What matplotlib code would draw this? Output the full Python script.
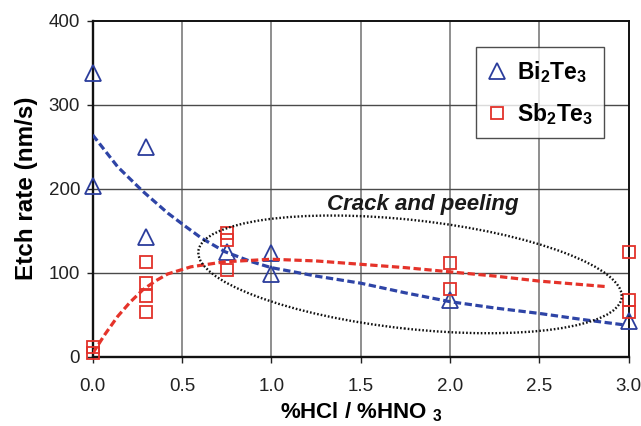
import matplotlib
matplotlib.use("Agg")
import matplotlib.pyplot as plt
from matplotlib.patches import Ellipse
from matplotlib.transforms import Affine2D
from matplotlib.lines import Line2D

plt.rcParams['font.family'] = ['Liberation Sans', 'DejaVu Sans']
plt.rcParams['mathtext.fontset'] = 'custom'
plt.rcParams['mathtext.rm'] = 'Liberation Sans'
plt.rcParams['mathtext.bf'] = 'Liberation Sans:bold'
plt.rcParams['mathtext.it'] = 'Liberation Sans:italic'

# measured points
bi_x = [0.0, 0.0, 0.3, 0.3, 0.75, 1.0, 1.0, 2.0, 3.0]
bi_y = [338, 203, 250, 142, 125, 124, 99, 67, 42]

sb_x = [0.0, 0.0, 0.3, 0.3, 0.3, 0.3, 0.75, 0.75, 0.75, 2.0, 2.0, 3.0, 3.0, 3.0]
sb_y = [11, 4, 113, 88, 72, 53, 147, 139, 103, 111, 80, 125, 68, 53]

# trend lines
bi_fit_x = [0.0, 0.14, 0.28, 0.42, 0.52, 0.61, 0.74, 0.89, 1.0, 1.25, 1.5, 1.75, 2.0, 2.25, 2.5, 2.75, 2.97]
bi_fit_y = [264, 226, 197, 171, 155, 141, 125, 113, 106, 96, 87.5, 76, 65.5, 58, 51.5, 44, 38]

sb_fit_x = [0.0, 0.07, 0.14, 0.21, 0.28, 0.35, 0.42, 0.55, 0.74, 1.0, 1.25, 1.5, 1.75, 2.0, 2.25, 2.5, 2.87]
sb_fit_y = [4, 27, 48, 65, 79.5, 90, 98.5, 107, 113, 116, 114, 110, 106, 101, 96, 90, 83.5]

blue = '#2b3d9c'
red = '#e2312a'

fig = plt.figure(figsize=(6.41, 4.26), dpi=100)
ax = fig.add_axes([0.1446, 0.1627, 0.8362, 0.7887])

ax.set_xlim(0, 3.0)
ax.set_ylim(0, 400)
ax.set_xticks([0, 0.5, 1.0, 1.5, 2.0, 2.5, 3.0])
ax.set_xticklabels(['0.0', '0.5', '1.0', '1.5', '2.0', '2.5', '3.0'])
ax.set_yticks([0, 100, 200, 300, 400])

for xv in [0.5, 1.0, 1.5, 2.0, 2.5]:
    ax.axvline(xv, color='#707070', lw=1.1, zorder=1)
for yv in [100, 200, 300]:
    ax.axhline(yv, color='#4a4a4a', lw=1.0, zorder=1)

ax.plot(bi_x, bi_y, ls='none', marker='^', ms=11.5, mfc='none', mec=blue, mew=1.3,
        clip_on=False, zorder=3)
ax.plot(sb_x, sb_y, ls='none', marker='s', ms=9.2, mfc='none', mec=red, mew=1.3,
        clip_on=False, zorder=3)

ax.plot(bi_fit_x, bi_fit_y, color='#2e44a6', lw=2.3, dashes=(2.3, 1.1), zorder=4)
ax.plot(sb_fit_x, sb_fit_y, color='#e5332a', lw=2.3, dashes=(2.3, 1.1), zorder=4)

# dotted ellipse, drawn in a space where x and y units have the same pixel size
bb = ax.get_position()
W = bb.width * fig.get_figwidth()
H = bb.height * fig.get_figheight()
ys = (400.0 * W) / (3.0 * H)
ell = Ellipse((1.776, 98.0 / ys), width=2.383, height=0.609, angle=-6.26,
              transform=Affine2D().scale(1, ys) + ax.transData,
              fill=False, edgecolor='#111111', lw=1.7, linestyle=(0, (0.7, 0.85)), zorder=5)
ax.add_patch(ell)

ax.text(1.85, 175, 'Crack and peeling', ha='center', va='baseline', fontsize=16,
        fontweight='bold', fontstyle='italic', color='#1a1a1a', zorder=6)

for s in ['left', 'bottom']:
    ax.spines[s].set_linewidth(1.7)
for s in ['top', 'right']:
    ax.spines[s].set_linewidth(1.4)
for s in ax.spines.values():
    s.set_color('#111111')
    s.set_zorder(2)

ax.tick_params(axis='y', direction='out', length=4, width=1, pad=5, labelsize=13.5, colors='#222222')
ax.tick_params(axis='x', direction='out', length=4.5, width=1, pad=11, labelsize=13.5, colors='#222222')

ax.set_ylabel('Etch rate (nm/s)', fontsize=17.5, fontweight='bold', labelpad=8)
ax.set_xlabel(r'%HCl / %HNO $\mathbf{_3}$', fontsize=16, fontweight='bold', labelpad=4)

handles = [
    Line2D([], [], ls='none', marker='^', ms=11.5, mfc='none', mec=blue, mew=1.3),
    Line2D([], [], ls='none', marker='s', ms=9.2, mfc='none', mec=red, mew=1.3),
]
labels = [r'$\mathbf{Bi_2Te_3}$', r'$\mathbf{Sb_2Te_3}$']
leg = ax.legend(handles, labels, loc='upper left', bbox_to_anchor=(0.716, 0.921),
                borderaxespad=0, fontsize=16.5, frameon=True, fancybox=False,
                handlelength=0.8, handletextpad=0.45, borderpad=0.5, labelspacing=0.7)
leg.get_frame().set_edgecolor('#222222')
leg.get_frame().set_linewidth(1.0)
leg.set_zorder(7)

plt.savefig('out.png', dpi=100)
